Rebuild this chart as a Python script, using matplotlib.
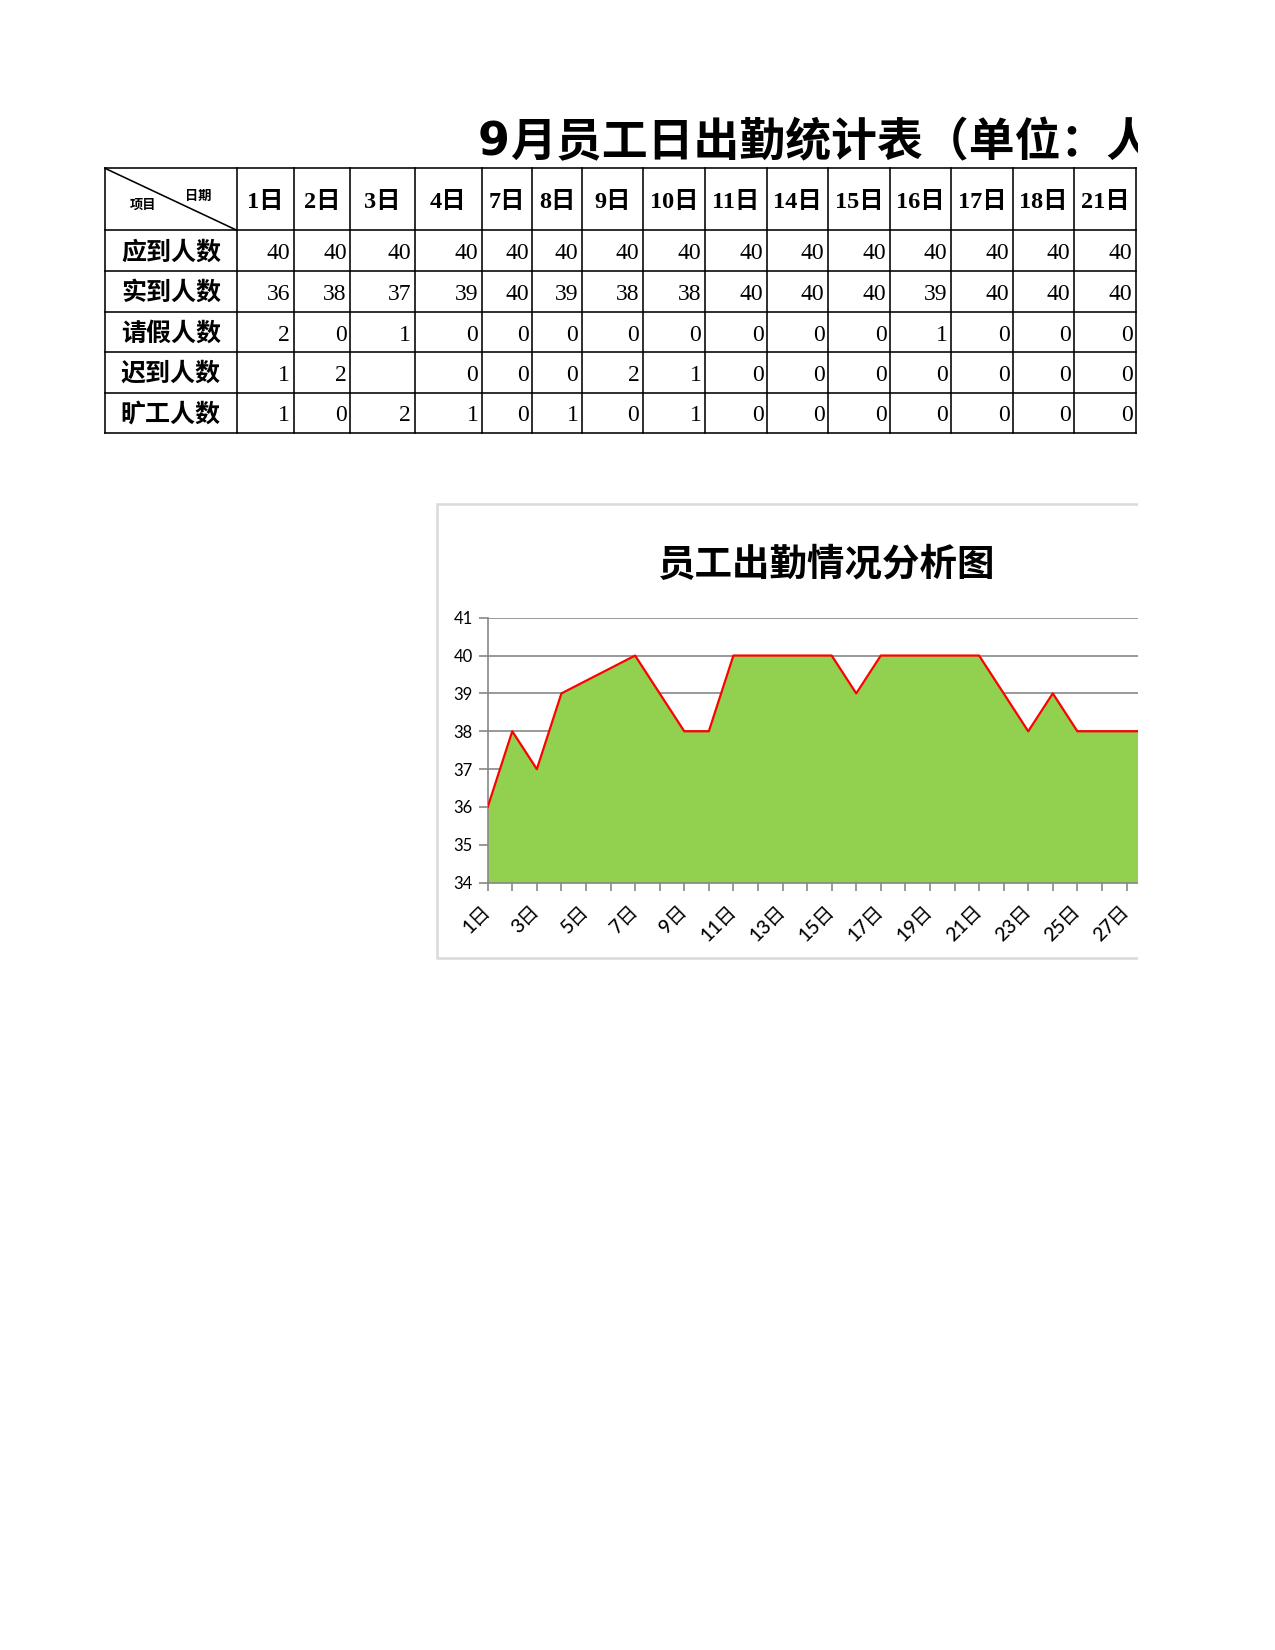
import matplotlib
matplotlib.use("Agg")
import matplotlib.pyplot as plt
from matplotlib.patches import Rectangle
from matplotlib.lines import Line2D

# ---------------- data ----------------
page_title = "9月员工日出勤统计表（单位：人）"
chart_title = "员工出勤情况分析图"
corner_top = "日期"
corner_bottom = "项目"
dates = ['1日', '2日', '3日', '4日', '7日', '8日', '9日', '10日', '11日',
         '14日', '15日', '16日', '17日', '18日', '21日']
row_names = ['应到人数', '实到人数', '请假人数', '迟到人数', '旷工人数']
expected = [40, 40, 40, 40, 40, 40, 40, 40, 40, 40, 40, 40, 40, 40, 40]
actual = [36, 38, 37, 39, 40, 39, 38, 38, 40, 40, 40, 39, 40, 40, 40]
leave = [2, 0, 1, 0, 0, 0, 0, 0, 0, 0, 0, 1, 0, 0, 0]
late = [1, 2, None, 0, 0, 0, 2, 1, 0, 0, 0, 0, 0, 0, 0]
absent = [1, 0, 2, 1, 0, 1, 0, 1, 0, 0, 0, 0, 0, 0, 0]

chart_days = [1, 2, 3, 4, 7, 8, 9, 10, 11, 14, 15, 16, 17, 18, 21, 22, 23, 24, 25, 28]
chart_actual = [36, 38, 37, 39, 40, 39, 38, 38, 40, 40, 40, 39, 40, 40, 40, 39, 38, 39, 38, 38]
y_ticks = [34, 35, 36, 37, 38, 39, 40, 41]
x_tick_days = list(range(1, 31))
x_tick_labels = ['1日', '', '3日', '', '5日', '', '7日', '', '9日', '', '11日', '', '13日', '',
                 '15日', '', '17日', '', '19日', '', '21日', '', '23日', '', '25日', '', '27日', '',
                 '29日', '']

# ---------------- layout (pixels) ----------------
W, H = 1275, 1650
col_edges = [105, 236.7, 293.5, 350.3, 414.5, 481.8, 532.3, 581.8, 642.8, 704.8,
             766.9, 827.9, 890, 951, 1013, 1074, 1136]
row_edges = [168.3, 230.2, 271.2, 311.8, 352.3, 392.6, 433.2]
clip_x = 1137.5

fig = plt.figure(figsize=(W / 100, H / 100), dpi=100)
fig.patch.set_facecolor('white')

ov = fig.add_axes([0, 0, 1, 1])
ov.set_xlim(0, W)
ov.set_ylim(H, 0)
ov.axis('off')

CJK = ['Noto Sans CJK SC', 'DejaVu Sans']
SERIF = ['Liberation Serif', 'Noto Sans CJK SC']

# page title
ov.text(478, 156, page_title[0], fontsize=33, fontweight='bold',
        family=['DejaVu Sans'], ha='left', va='baseline', color='black')
ov.text(478 + 32, 156, page_title[1:], fontsize=33, fontweight='bold',
        family=CJK, ha='left', va='baseline', color='black')

# table grid
lw = 1.15
for x in col_edges:
    ov.add_line(Line2D([x, x], [row_edges[0], row_edges[-1]], color='black', lw=lw))
for y in row_edges:
    ov.add_line(Line2D([col_edges[0], col_edges[-1]], [y, y], color='black', lw=lw))
# corner diagonal
ov.add_line(Line2D([col_edges[0], col_edges[1]], [row_edges[0], row_edges[1]], color='black', lw=lw))
ov.text(198, 196, corner_top, fontsize=9.5, fontweight='bold', family=CJK,
        ha='center', va='center')
ov.text(143, 205, corner_bottom, fontsize=9.5, fontweight='bold', family=CJK,
        ha='center', va='center')

# header dates
hy = (row_edges[0] + row_edges[1]) / 2
for i, d in enumerate(dates):
    cx = (col_edges[i + 1] + col_edges[i + 2]) / 2
    ov.text(cx, hy + 3, d, fontsize=17.5, fontweight='bold', family=SERIF,
            ha='center', va='center')

# rows
rows = [expected, actual, leave, late, absent]
for r, (name, vals) in enumerate(zip(row_names, rows)):
    cy = (row_edges[r + 1] + row_edges[r + 2]) / 2
    ov.text((col_edges[0] + col_edges[1]) / 2, cy + 1.5, name, fontsize=18,
            fontweight='bold', family=CJK, ha='center', va='center')
    for i, v in enumerate(vals):
        if v is None:
            continue
        ov.text(col_edges[i + 2] - 3.5, cy + 3, str(v), fontsize=17,
                family=['Liberation Serif'], ha='right', va='center', color='black')

# chart frame and title
ov.add_patch(Rectangle((436.6, 504.3), 800, 453.7, facecolor='white',
                       edgecolor='#d9d9d9', lw=1.8))
ov.text(827, 565, chart_title, fontsize=27, fontweight='bold', family=CJK,
        ha='center', va='center')

# chart axes
ax_l, ax_r = 487.7, 487.7 + 29 * 24.57
ax_t, ax_b = 617.7, 882.7
ax = fig.add_axes([ax_l / W, 1 - ax_b / H, (ax_r - ax_l) / W, (ax_b - ax_t) / H])
ax.set_facecolor('none')
ax.fill_between(chart_days, chart_actual, 34, color='#92D050', lw=0, zorder=2)
ax.plot(chart_days, chart_actual, color='#FF0000', lw=1.6, zorder=3)
ax.set_xlim(1, 30)
ax.set_ylim(34, 41)
ax.set_yticks(y_ticks)
ax.set_yticklabels([str(v) for v in y_ticks], family=['Lato'], fontsize=12)
ax.set_xticks(x_tick_days)
ax.set_xticklabels(x_tick_labels, family=['Lato', 'Noto Sans CJK SC'], fontsize=14,
                   fontweight='medium',
                   rotation=45, ha='right', va='center', rotation_mode='anchor')
ax.grid(axis='y', color='#878787', lw=1.2, zorder=0)
ax.set_axisbelow(True)
for s in ['top', 'right']:
    ax.spines[s].set_visible(False)
for s in ['left', 'bottom']:
    ax.spines[s].set_color('#878787')
    ax.spines[s].set_linewidth(1.2)
ax.tick_params(axis='y', direction='out', length=6.5, width=1.2, color='#878787',
               pad=4.3, labelcolor='black')
ax.tick_params(axis='x', direction='out', length=5.8, width=1.2, color='#878787',
               pad=13, labelcolor='black')

# page clipped at the right
fig.patches.append(Rectangle((clip_x / W, 0), 1 - clip_x / W, 1, transform=fig.transFigure,
                             facecolor='white', edgecolor='none', zorder=100))

fig.savefig('out.png', dpi=100, facecolor='white')
